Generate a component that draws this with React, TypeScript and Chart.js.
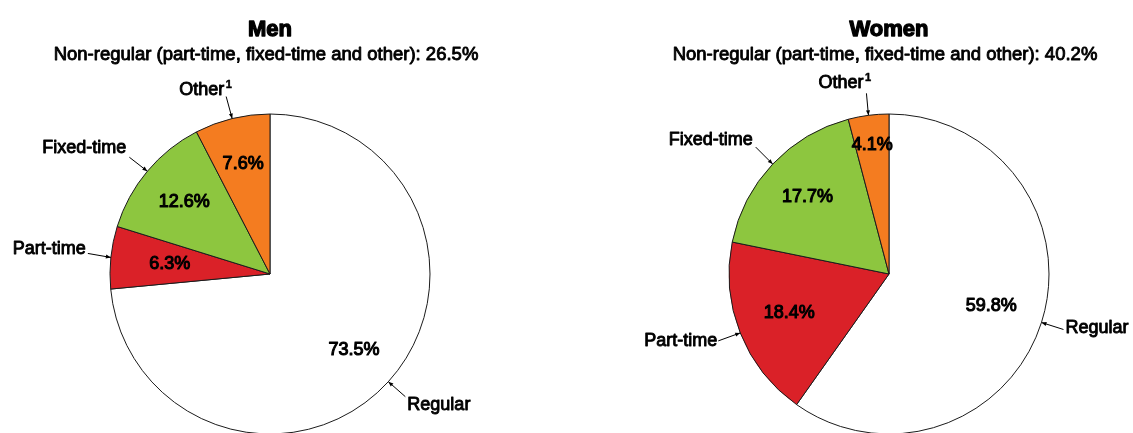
import React, { useEffect, useRef } from "react";
import { Chart, registerables } from "chart.js";

Chart.register(...registerables);

// Employment status shares (%), listed clockwise from 12 o'clock
const categories = ["Regular", "Part-time", "Fixed-time", "Other"];
const categoryNotes = ["", "", "", "1"];
const menShares = [73.5, 6.3, 12.6, 7.6];
const womenShares = [59.8, 18.4, 17.7, 4.1];
const menNonRegular = 26.5;
const womenNonRegular = 40.2;

const sliceColors = ["#ffffff", "#da2128", "#8dc63f", "#f47c20"];
const FONT = '"Liberation Sans", Arial, Helvetica, sans-serif';

type Leader = {
  dx: number; // leader end, relative to the arrow tip on the rim
  dy: number;
  tx: number; // text anchor, relative to the leader end
  ty: number;
  align: CanvasTextAlign;
};

type PieLayout = {
  left: number;
  width: number;
  height: number;
  padding: { left: number; right: number; top: number; bottom: number };
  radius: number;
  valueRadius: number[];
  leaders: Leader[];
};

const menLayout: PieLayout = {
  left: 0,
  width: 566,
  height: 480,
  padding: { left: 110, right: 136, top: 114, bottom: 46 },
  radius: 160,
  valueRadius: [0.71, 0.63, 0.7, 0.71],
  leaders: [
    { dx: 17, dy: 15, tx: 2, ty: 8, align: "left" },
    { dx: -23, dy: -4, tx: -2, ty: -4, align: "right" },
    { dx: -18, dy: -14, tx: -3, ty: -9, align: "right" },
    { dx: -6, dy: -22, tx: -2, ty: -7, align: "right" },
  ],
};

const womenLayout: PieLayout = {
  left: 566,
  width: 567,
  height: 480,
  padding: { left: 163, right: 84, top: 114, bottom: 46 },
  radius: 160,
  valueRadius: [0.67, 0.67, 0.7, 0.81],
  leaders: [
    { dx: 22, dy: 7, tx: 2, ty: -1, align: "left" },
    { dx: -22, dy: 8, tx: -1, ty: 0, align: "right" },
    { dx: -17, dy: -17, tx: -3, ty: -7, align: "right" },
    { dx: -2, dy: -22, tx: -3, ty: -10, align: "right" },
  ],
};

// Heavy-looking text: regular metrics with a thin outline on top
function heavyText(
  ctx: CanvasRenderingContext2D,
  text: string,
  x: number,
  y: number,
  size: number,
  weight: string,
  stroke: number
) {
  ctx.font = `${weight} ${size}px ${FONT}`;
  ctx.fillText(text, x, y);
  if (stroke > 0) {
    ctx.lineWidth = stroke;
    ctx.strokeText(text, x, y);
  }
}

function makeNotesPlugin(title: string, nonRegular: number, layout: PieLayout) {
  return {
    id: "pieNotes",
    afterDraw(chart: any) {
      const ctx: CanvasRenderingContext2D = chart.ctx;
      const arcs = chart.getDatasetMeta(0).data;
      const values: number[] = chart.data.datasets[0].data;
      if (!arcs.length) return;
      const cx = arcs[0].x;

      ctx.save();
      ctx.fillStyle = "#000";
      ctx.strokeStyle = "#000";
      ctx.lineJoin = "round";

      // headings
      ctx.textAlign = "center";
      ctx.textBaseline = "alphabetic";
      heavyText(ctx, title, cx, 36, 22, "bold", 1.3);
      heavyText(
        ctx,
        `Non-regular (part-time, fixed-time and other): ${nonRegular.toFixed(1)}%`,
        cx - 4,
        60,
        18.5,
        "normal",
        0.9
      );

      arcs.forEach((arc: any, i: number) => {
        const p = arc.getProps(["x", "y", "startAngle", "endAngle", "outerRadius"], true);
        const mid = (p.startAngle + p.endAngle) / 2;

        // value inside the slice
        const vr = p.outerRadius * layout.valueRadius[i];
        ctx.textAlign = "center";
        ctx.textBaseline = "middle";
        heavyText(
          ctx,
          `${values[i].toFixed(1)}%`,
          p.x + Math.cos(mid) * vr,
          p.y + Math.sin(mid) * vr,
          18,
          "normal",
          1.1
        );

        // leader line with arrow tip on the rim
        const tipX = p.x + Math.cos(mid) * p.outerRadius;
        const tipY = p.y + Math.sin(mid) * p.outerRadius;
        const ld = layout.leaders[i];
        const ex = tipX + ld.dx;
        const ey = tipY + ld.dy;
        ctx.lineWidth = 1;
        ctx.beginPath();
        ctx.moveTo(ex, ey);
        ctx.lineTo(tipX, tipY);
        ctx.stroke();
        const ang = Math.atan2(tipY - ey, tipX - ex);
        const len = 5;
        const half = 2;
        ctx.beginPath();
        ctx.moveTo(tipX, tipY);
        ctx.lineTo(
          tipX - Math.cos(ang) * len - Math.sin(ang) * half,
          tipY - Math.sin(ang) * len + Math.cos(ang) * half
        );
        ctx.lineTo(
          tipX - Math.cos(ang) * len + Math.sin(ang) * half,
          tipY - Math.sin(ang) * len - Math.cos(ang) * half
        );
        ctx.closePath();
        ctx.fill();

        // category name (with footnote marker where needed)
        const note = categoryNotes[i];
        ctx.textAlign = ld.align;
        ctx.textBaseline = "middle";
        const lx = ex + ld.tx;
        const ly = ey + ld.ty;
        heavyText(ctx, categories[i], lx, ly, 18, "normal", 0.9);
        if (note) {
          ctx.textAlign = "left";
          heavyText(ctx, note, lx + 1.5, ly - 5, 11, "bold", 0.5);
        }
      });

      ctx.restore();
    },
  };
}

function SharePie(props: {
  title: string;
  nonRegular: number;
  shares: number[];
  layout: PieLayout;
}) {
  const ref = useRef<HTMLCanvasElement | null>(null);
  const { title, nonRegular, shares, layout } = props;

  useEffect(() => {
    if (!ref.current) return;
    const chart = new Chart(ref.current, {
      type: "pie",
      data: {
        labels: categories,
        datasets: [
          {
            data: shares,
            backgroundColor: sliceColors,
            borderColor: "#1b1b1b",
            borderWidth: 1,
            radius: layout.radius,
          } as any,
        ],
      },
      options: {
        responsive: false,
        animation: false,
        events: [],
        layout: { padding: layout.padding },
        plugins: {
          legend: { display: false },
          tooltip: { enabled: false },
          title: { display: false },
        },
      },
      plugins: [makeNotesPlugin(title, nonRegular, layout)],
    });
    return () => chart.destroy();
  }, [title, nonRegular, shares, layout]);

  return (
    <canvas
      ref={ref}
      width={layout.width}
      height={layout.height}
      style={{
        position: "absolute",
        left: layout.left,
        top: 0,
        width: layout.width,
        height: layout.height,
        display: "block",
      }}
    />
  );
}

export default function App() {
  return (
    <div
      style={{
        position: "fixed",
        left: 0,
        top: 0,
        width: 1133,
        height: 433,
        overflow: "hidden",
        background: "#ffffff",
      }}
    >
      <SharePie title="Men" nonRegular={menNonRegular} shares={menShares} layout={menLayout} />
      <SharePie title="Women" nonRegular={womenNonRegular} shares={womenShares} layout={womenLayout} />
    </div>
  );
}
